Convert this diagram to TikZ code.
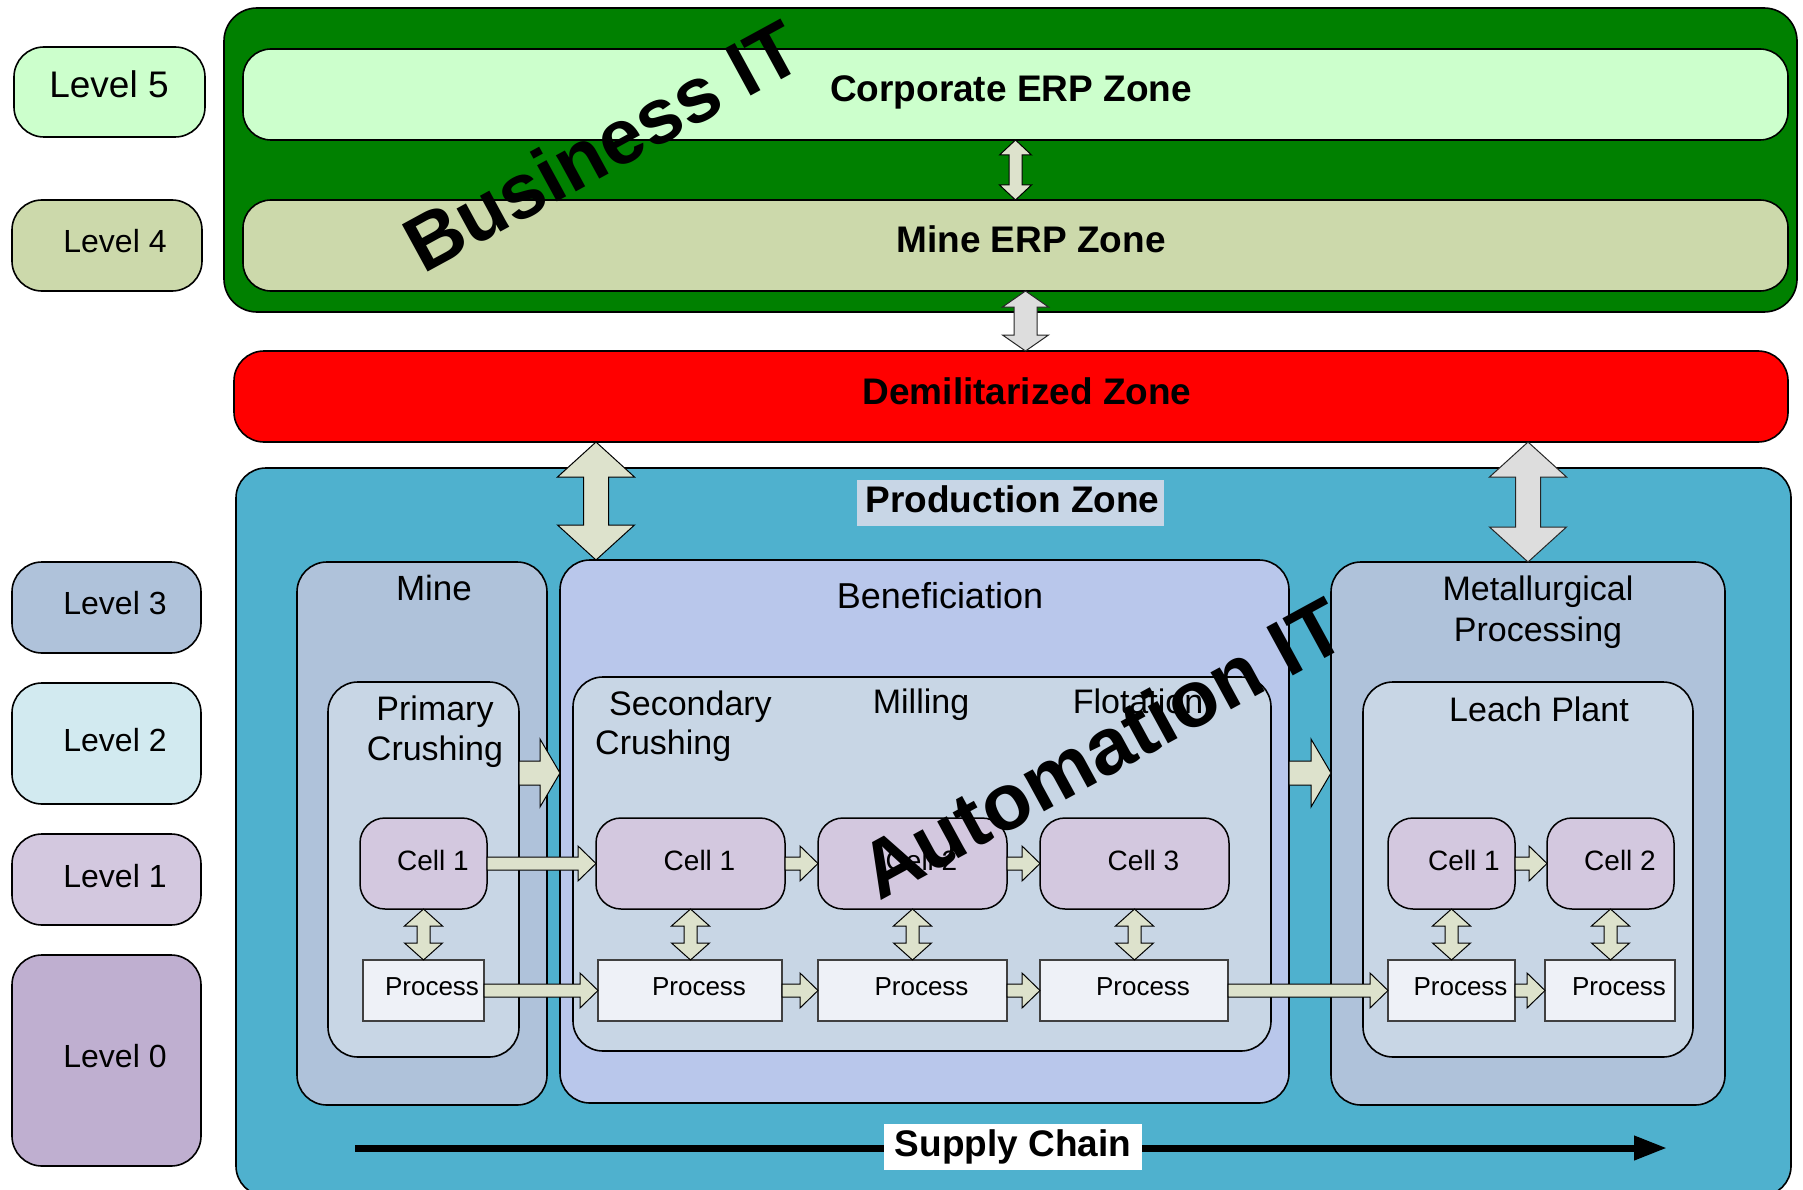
\documentclass[tikz,border=0pt]{standalone}
\usepackage{fontspec}
\setmainfont{Liberation Sans}
\usetikzlibrary{calc,arrows.meta}

\definecolor{bizgreen}{RGB}{0,128,0}
\definecolor{corpc}{RGB}{204,255,204}
\definecolor{minerpc}{RGB}{204,217,171}
\definecolor{prodc}{RGB}{79,177,206}
\definecolor{lvthree}{RGB}{175,194,218}
\definecolor{benc}{RGB}{185,199,235}
\definecolor{lvtwo}{RGB}{200,214,229}
\definecolor{lvtwolabel}{RGB}{210,234,240}
\definecolor{cellc}{RGB}{211,200,223}
\definecolor{lvzero}{RGB}{191,175,208}
\definecolor{procc}{RGB}{238,241,247}
\definecolor{sagec}{RGB}{221,226,204}
\definecolor{greyc}{RGB}{221,221,221}
\definecolor{prodlabelc}{RGB}{200,214,230}

\newcommand{\pxfont}[1]{\fontsize{#1}{#1}\selectfont}

% horizontal block arrow: style, from, to, half shaft, half head, head length
\newcommand{\hblockarrow}[6]{%
  \draw[#1] let \p1=(#2), \p2=(#3) in
    (\x1,{\y1+#4}) -- ({\x2-#6},{\y1+#4}) -- ({\x2-#6},{\y1+#5}) -- (\x2,\y1)
    -- ({\x2-#6},{\y1-#5}) -- ({\x2-#6},{\y1-#4}) -- (\x1,{\y1-#4}) -- cycle;}

% vertical double block arrow: style, top, bottom, half shaft, half head, head length
\newcommand{\vblockarrow}[6]{%
  \draw[#1] let \p1=(#2), \p2=(#3) in
    (\x1,\y1) -- ({\x1+#5},{\y1-#6}) -- ({\x1+#4},{\y1-#6}) -- ({\x1+#4},{\y2+#6})
    -- ({\x1+#5},{\y2+#6}) -- (\x1,\y2) -- ({\x1-#5},{\y2+#6}) -- ({\x1-#4},{\y2+#6})
    -- ({\x1-#4},{\y1-#6}) -- ({\x1-#5},{\y1-#6}) -- cycle;}

\begin{document}
\begin{tikzpicture}[x=1pt,y=-1pt,
  zone/.style={draw=black, line width=1.6pt, rounded corners=30pt, inner sep=0pt, outer sep=0pt},
  lvbox/.style={zone, rounded corners=30pt},
  cellbox/.style={draw=black, line width=1.5pt, rounded corners=25pt, fill=cellc, minimum height=91pt, inner sep=0pt, outer sep=0pt},
  procbox/.style={draw=black!75, line width=1.3pt, fill=procc, minimum height=61pt, inner sep=0pt, outer sep=0pt},
  lbl/.style={inner sep=0pt, anchor=base},
  sage/.style={draw=black, line width=1pt, fill=sagec},
  greyarr/.style={draw=black!85, line width=1pt, fill=greyc}
]
\useasboundingbox (0,0) rectangle (1803,1190);

% ---------- level boxes ----------
\node[lvbox, fill=corpc, minimum width=191pt, minimum height=90pt] (lv5) at (109.5,92) {};
\node[lbl, font=\pxfont{37}] (tlv5) at (109,98) {Level 5};
\node[lvbox, fill=minerpc, minimum width=190pt, minimum height=91pt] (lv4) at (107,245.5) {};
\node[lbl, font=\pxfont{32}] (tlv4) at (115,252) {Level 4};
\node[lvbox, fill=lvthree, minimum width=189pt, minimum height=91pt] (lv3) at (106.5,607.5) {};
\node[lbl, font=\pxfont{32}] (tlv3) at (115,614.6) {Level 3};
\node[lvbox, fill=lvtwolabel, minimum width=189pt, minimum height=121pt] (lv2) at (106.5,743.5) {};
\node[lbl, font=\pxfont{32}] (tlv2) at (115,751) {Level 2};
\node[lvbox, fill=cellc, minimum width=189pt, minimum height=91pt] (lv1) at (106.5,879.5) {};
\node[lbl, font=\pxfont{32}] (tlv1) at (115,887) {Level 1};
\node[lvbox, fill=lvzero, minimum width=189pt, minimum height=211pt] (lv0) at (106.5,1060.5) {};
\node[lbl, font=\pxfont{32}] (tlv0) at (115,1067.5) {Level 0};

% ---------- business IT ----------
\node[zone, fill=bizgreen, rounded corners=33pt, minimum width=1573pt, minimum height=304pt] (biz) at (1010.5,160) {};
\node[zone, fill=corpc, rounded corners=28pt, minimum width=1545pt, minimum height=91pt] (corp) at (1015.5,94.5) {};
\node[lbl, font=\bfseries\pxfont{37}] (tcorp) at (1011,102) {Corporate ERP Zone};
\node[zone, fill=minerpc, rounded corners=28pt, minimum width=1545pt, minimum height=91pt] (mineerp) at (1015.5,245.5) {};
\node[lbl, font=\bfseries\pxfont{37}] (tmineerp) at (1031,252) {Mine ERP Zone};
\vblockarrow{sage}{corp.south}{mineerp.north}{6.5pt}{16pt}{15pt}

% ---------- DMZ ----------
\node[zone, fill=red, rounded corners=30pt, minimum width=1554pt, minimum height=91pt] (dmz) at (1011,396.5) {};
\node[lbl, font=\bfseries\pxfont{37}] (tdmz) at (1027,404) {Demilitarized Zone};
\vblockarrow{greyarr}{[xshift=10pt]mineerp.south}{dmz.north}{11.5pt}{23pt}{16pt}

% ---------- production zone ----------
\node[zone, fill=prodc, rounded corners=30pt, minimum width=1555pt, minimum height=728pt] (prod) at (1013.5,832) {};
\node[fill=prodlabelc, inner sep=0pt, minimum width=307pt, minimum height=46pt] (prodlbl) at (1010.5,503) {};
\node[lbl, font=\bfseries\pxfont{37}] (tprod) at (1012.5,512) {Production Zone};

% level 3 boxes
\node[zone, fill=lvthree, minimum width=250pt, minimum height=543pt] (mine) at (422,833.5) {};
\node[zone, fill=benc, minimum width=729pt, minimum height=543pt] (ben) at (924.5,831.5) {};
\node[zone, fill=lvthree, minimum width=394pt, minimum height=543pt] (met) at (1528,833.5) {};
\node[lbl, font=\pxfont{35}] (tmine) at (434,600.6) {Mine};
\node[lbl, font=\pxfont{36}] (tben) at (940,608) {Beneficiation};
\node[lbl, font=\pxfont{34}] (tmet1) at (1538,600) {Metallurgical};
\node[lbl, font=\pxfont{34}] (tmet2) at (1538,641) {Processing};

% DMZ <-> production arrows
\vblockarrow{sage}{[xshift=36pt]ben.north west |- dmz.south}{[xshift=36pt]ben.north west}{12.5pt}{38.5pt}{35pt}
\vblockarrow{greyarr}{met.north |- dmz.south}{met.north}{12.5pt}{38.5pt}{35pt}

% level 2 boxes
\node[zone, fill=lvtwo, minimum width=191pt, minimum height=375pt] (pc) at (423.5,869.5) {};
\node[zone, fill=lvtwo, minimum width=698pt, minimum height=374pt] (benin) at (922,864) {};
\node[zone, fill=lvtwo, minimum width=330pt, minimum height=375pt] (leach) at (1528,869.5) {};
\node[lbl, font=\pxfont{34}] (tpc1) at (435,720.7) {Primary};
\node[lbl, font=\pxfont{34}] (tpc2) at (435,760) {Crushing};
\node[lbl, font=\pxfont{34}, anchor=base west] (tsc1) at (609,715) {Secondary};
\node[lbl, font=\pxfont{34}, anchor=base west] (tsc2) at (595,754) {Crushing};
\node[lbl, font=\pxfont{34}] (tmill) at (921,713) {Milling};
\node[lbl, font=\pxfont{34}] (tflot) at (1138,713) {Flotation};
\node[lbl, font=\pxfont{34}] (tleach) at (1539,721) {Leach Plant};

% level 2 flow arrows
\hblockarrow{sage}{[yshift=-91pt]pc.north east}{ben.west}{12pt}{34pt}{20pt}
\hblockarrow{sage}{[yshift=-213pt]ben.north east}{met.west}{12pt}{34pt}{20pt}

% cells
\node[cellbox, minimum width=127pt] (mc) at (423.5,863.5) {};
\node[cellbox, minimum width=189pt] (bc1) at (690.5,863.5) {};
\node[cellbox, minimum width=189pt] (bc2) at (912.5,863.5) {};
\node[cellbox, minimum width=189pt] (bc3) at (1134.5,863.5) {};
\node[cellbox, minimum width=127pt] (lc1) at (1451.5,863.5) {};
\node[cellbox, minimum width=127pt] (lc2) at (1610.5,863.5) {};
\node[lbl, font=\pxfont{28}] (tmc) at (433,870) {Cell 1};
\node[lbl, font=\pxfont{28}] (tbc1) at (699.5,870) {Cell 1};
\node[lbl, font=\pxfont{28}] (tbc2) at (921.5,870) {Cell 2};
\node[lbl, font=\pxfont{28}] (tbc3) at (1143.5,870) {Cell 3};
\node[lbl, font=\pxfont{28}] (tlc1) at (1464,870) {Cell 1};
\node[lbl, font=\pxfont{28}] (tlc2) at (1620,870) {Cell 2};

% processes
\node[procbox, minimum width=121pt] (mp) at (423.5,990.5) {};
\node[procbox, minimum width=184pt] (bp1) at (690,990.5) {};
\node[procbox, minimum width=189pt] (bp2) at (912.5,990.5) {};
\node[procbox, minimum width=188pt] (bp3) at (1134,990.5) {};
\node[procbox, minimum width=127pt] (lp1) at (1451.5,990.5) {};
\node[procbox, minimum width=130pt] (lp2) at (1610,990.5) {};
\node[lbl, font=\pxfont{26}] (tmp) at (432,995.7) {Process};
\node[lbl, font=\pxfont{26}] (tbp1) at (699,995.7) {Process};
\node[lbl, font=\pxfont{26}] (tbp2) at (921.5,995.7) {Process};
\node[lbl, font=\pxfont{26}] (tbp3) at (1143,995.7) {Process};
\node[lbl, font=\pxfont{26}] (tlp1) at (1460.5,995.7) {Process};
\node[lbl, font=\pxfont{26}] (tlp2) at (1619,995.7) {Process};

% cell flow arrows
\hblockarrow{sage}{mc.east}{bc1.west}{6.5pt}{17.5pt}{18pt}
\hblockarrow{sage}{bc1.east}{bc2.west}{6.5pt}{17.5pt}{18pt}
\hblockarrow{sage}{bc2.east}{bc3.west}{6.5pt}{17.5pt}{18pt}
\hblockarrow{sage}{lc1.east}{lc2.west}{6.5pt}{17.5pt}{18pt}
% process flow arrows
\hblockarrow{sage}{mp.east}{bp1.west}{6.5pt}{17.5pt}{18pt}
\hblockarrow{sage}{bp1.east}{bp2.west}{6.5pt}{17.5pt}{18pt}
\hblockarrow{sage}{bp2.east}{bp3.west}{6.5pt}{17.5pt}{18pt}
\hblockarrow{sage}{bp3.east}{lp1.west}{6.5pt}{17.5pt}{18pt}
\hblockarrow{sage}{lp1.east}{lp2.west}{6.5pt}{17.5pt}{18pt}
% cell <-> process arrows
\vblockarrow{sage}{mc.south}{mp.north}{6.5pt}{19pt}{17pt}
\vblockarrow{sage}{bc1.south}{bp1.north}{6.5pt}{19pt}{17pt}
\vblockarrow{sage}{bc2.south}{bp2.north}{6.5pt}{19pt}{17pt}
\vblockarrow{sage}{bc3.south}{bp3.north}{6.5pt}{19pt}{17pt}
\vblockarrow{sage}{lc1.south}{lp1.north}{6.5pt}{19pt}{17pt}
\vblockarrow{sage}{lc2.south}{lp2.north}{6.5pt}{19pt}{17pt}

% supply chain
\coordinate (sc1) at (355,1148);
\coordinate (sc2) at (1667,1148);
\draw[line width=7pt, -{Triangle[length=33pt,width=23pt]}] (sc1) -- (sc2);
\node[fill=white, inner sep=0pt, minimum width=258pt, minimum height=46pt, font=\bfseries\pxfont{37}] (supply) at (1013,1147) {Supply Chain};

% rotated labels
\node[inner sep=0pt, anchor=base west, rotate=28.6, font=\bfseries\pxfont{78}] (bizit) at (423,275) {Business IT};
\node[inner sep=0pt, anchor=base west, rotate=28.6, font=\bfseries\pxfont{80}] (autoit) at (879,902) {Automation IT};
\end{tikzpicture}
\end{document}
